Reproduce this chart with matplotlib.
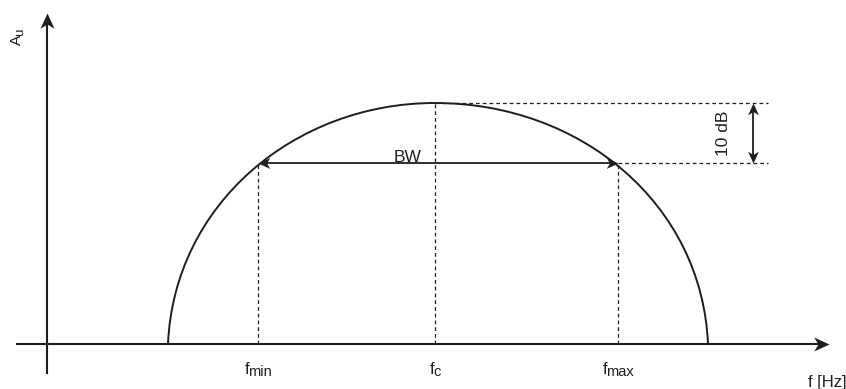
import matplotlib.pyplot as plt
from matplotlib.path import Path
from matplotlib.patches import PathPatch
from matplotlib.markers import MarkerStyle
from matplotlib.transforms import Affine2D

plt.rcParams['font.family'] = ['Liberation Sans', 'DejaVu Sans']

# frequency positions along the axis (drawing units, origin at the axes crossing)
f_start = 121
f_min = 211
f_c = 388
f_max = 571
f_end = 661

# gain levels
A_peak = 241
A_bw = 181

# bezier control points of the response curve (left half, right half)
left_ctrl = [(f_start, 0), (f_start + 6, 140), (f_c - 140, A_peak), (f_c, A_peak)]
right_ctrl = [(f_c + 146, A_peak), (f_end - 6, 140), (f_end, 0)]

tick_subs = ['min', 'c', 'max']
tick_pos = [f_min, f_c, f_max]

ink = '#1e1e1e'
dash = (0, (3.0, 2.4))

fig = plt.figure(figsize=(8.46, 3.89), dpi=100)
ax = fig.add_axes([0, 0, 1, 1])
ax.set_xlim(-47, 799)
ax.set_ylim(-45, 344)
ax.axis('off')

# notched arrow head, tip at the origin pointing along +x
head_path = Path([(0, 0), (-1, 0.46), (-0.72, 0), (-1, -0.46), (0, 0)],
                 [Path.MOVETO, Path.LINETO, Path.LINETO, Path.LINETO, Path.CLOSEPOLY])


def head(x, y, angle, size):
    m = MarkerStyle(head_path, transform=Affine2D().rotate_deg(angle))
    ax.plot([x], [y], marker=m, markersize=size, color=ink, markeredgewidth=0)


# axes
ax.plot([-30, 775], [0, 0], color=ink, lw=1.5)
head(782, 0, 0, 22)
ax.plot([0, 0], [-29, 325], color=ink, lw=1.5)
head(0, 331, 90, 22)

# response curve
verts = left_ctrl + right_ctrl
codes = [Path.MOVETO] + [Path.CURVE4] * 6
ax.add_patch(PathPatch(Path(verts, codes), fill=False, edgecolor=ink, lw=1.4))

# guide lines
for f, top in [(f_min, A_bw), (f_c, A_peak), (f_max, A_bw)]:
    ax.plot([f, f], [0, top], color=ink, lw=0.9, linestyle=dash)
ax.plot([f_c, 721], [A_peak, A_peak], color=ink, lw=0.9, linestyle=dash)
ax.plot([f_max, 721], [A_bw, A_bw], color=ink, lw=0.9, linestyle=dash)

# bandwidth arrow
ax.plot([f_min + 5, f_max - 5], [A_bw, A_bw], color=ink, lw=1.3)
head(f_min, A_bw, 180, 17)
head(f_max, A_bw, 0, 17)
ax.text(361, A_bw + 1, 'BW', ha='center', va='baseline', fontsize=12.5, color=ink)

# 10 dB arrow
ax.plot([705.5, 705.5], [A_bw + 5, A_peak - 5], color=ink, lw=1.3)
head(705.5, A_peak, 90, 17)
head(705.5, A_bw, -90, 17)
ax.text(676, (A_peak + A_bw) / 2, '10 dB', rotation=90, ha='center', va='center',
        fontsize=12.5, color=ink)

# tick labels: main letter plus a slightly lowered subscript
fig.canvas.draw()
rend = fig.canvas.get_renderer()
for f, sub in zip(tick_pos, tick_subs):
    t1 = ax.annotate('f', xy=(f, -30), xytext=(0, 0), textcoords='offset pixels',
                     ha='left', va='baseline', fontsize=12, color=ink)
    t2 = ax.annotate(sub, xy=(f, -30), xytext=(0, 0), textcoords='offset pixels',
                     ha='left', va='baseline', fontsize=10.5, color=ink)
    w1 = t1.get_window_extent(rend).width
    w2 = t2.get_window_extent(rend).width
    x0 = -(w1 - 1 + w2) / 2
    t1.xyann = (x0, 0)
    t2.xyann = (x0 + w1 - 1, -2)

# y axis label, rotated, with subscript u
ya = ax.annotate('A', xy=(-30, 299), xytext=(0, 0), textcoords='offset pixels',
                 rotation=90, ha='center', va='bottom', fontsize=11, color=ink)
hA = ya.get_window_extent(rend).height
ax.annotate('u', xy=(-30, 299), xytext=(3, hA - 1), textcoords='offset pixels',
            rotation=90, ha='center', va='bottom', fontsize=9.5, color=ink)

ax.text(799, -38, 'f [Hz]', ha='right', va='center', fontsize=12, color=ink)

fig.savefig('out.png', dpi=100)
